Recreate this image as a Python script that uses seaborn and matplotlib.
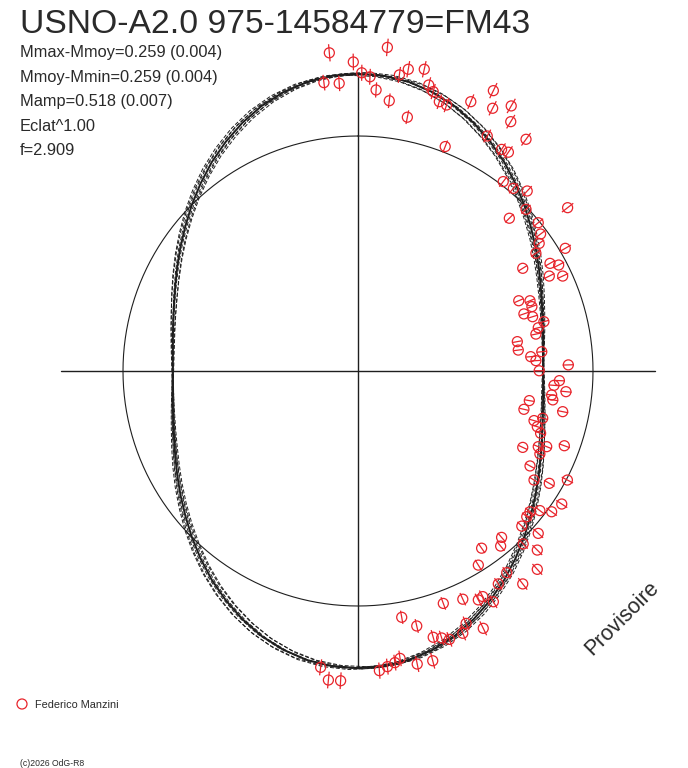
import numpy as np
import matplotlib
matplotlib.use("Agg")
import matplotlib.pyplot as plt
import seaborn as sns
from matplotlib.collections import LineCollection

# phase-folded light curve drawn in polar form (flux = radius, phase = angle)
title = "USNO-A2.0 975-14584779=FM43"
stats = [
    "Mmax-Mmoy=0.259 (0.004)",
    "Mmoy-Mmin=0.259 (0.004)",
    "Mamp=0.518 (0.007)",
    "Eclat^1.00",
    "f=2.909",
]
observer = "Federico Manzini"
footer = "(c)2026 OdG-R8"

# model curve: angle from top (deg, clockwise) -> relative flux, half period
curve_phase = [0, 5, 10, 15, 20, 25, 30, 35, 40, 45, 50, 55, 60, 65, 70, 75, 80, 85,
               90, 95, 100, 105, 110, 115, 120, 125, 130, 135, 140, 145, 150, 155, 160, 165, 170, 175]
curve_flux = [1.265, 1.261, 1.249, 1.228, 1.200, 1.165, 1.126, 1.085, 1.042, 1.000,
              0.959, 0.922, 0.888, 0.858, 0.833, 0.814, 0.800, 0.791, 0.788, 0.791,
              0.800, 0.814, 0.833, 0.858, 0.888, 0.922, 0.959, 1.000, 1.042, 1.085,
              1.126, 1.165, 1.200, 1.228, 1.249, 1.261]

# bootstrap variants of the model (flux exponent, phase shift deg)
var_power = [1.02, 0.98, 1.01, 0.99, 1.0, 1.0]
var_shift = [1.8, -1.8, -1.0, 1.0, 2.5, -2.5]

# observations in flux units (x = flux*sin(phase), y = flux*cos(phase))
obs_x = [-0.122, 0.125, -0.020, -0.145, -0.080, 0.016, 0.051, 0.077, 0.133, 0.210,
         0.176, 0.214, 0.282, 0.301, 0.320, 0.346, 0.377, 0.480, 0.576, 0.573,
         0.652, 0.650, 0.550, 0.371, 0.715, 0.611, 0.640, 0.618, 0.661, 0.720,
         0.715, 0.644, 0.892, 0.767, 0.777, 0.771, 0.757, 0.882, 0.701, 0.817,
         0.854, 0.814, 0.871, 0.684, 0.732, 0.740, 0.706, 0.743, 0.791, 0.767,
         0.757, 0.678, 0.682, 0.735, 0.757, 0.782, 0.895, 0.771, 0.857, 0.834,
         0.885, 0.824, 0.829, 0.729, 0.706, 0.871, 0.749, 0.786, 0.763, 0.777,
         0.701, 0.767, 0.803, 0.878, 0.774, 0.732, 0.749, 0.814, 0.891, 0.867,
         0.824, 0.774, 0.732, 0.718, 0.697, 0.767, 0.611, 0.607, 0.703, 0.763,
         0.526, 0.512, 0.633, 0.763, 0.597, 0.701, 0.363, 0.446, 0.512, 0.531,
         0.576, 0.186, 0.250, 0.460, 0.446, 0.533, 0.320, 0.356, 0.389, 0.179,
         0.157, 0.125, 0.091, 0.252, 0.318, -0.159, -0.126, -0.074]
obs_y = [1.354, 1.377, 1.315, 1.227, 1.224, 1.269, 1.252, 1.196, 1.150, 1.080,
         1.260, 1.284, 1.284, 1.217, 1.189, 1.146, 1.132, 1.146, 1.193, 1.118,
         1.128, 1.061, 1.000, 0.955, 0.986, 0.943, 0.931, 0.806, 0.777, 0.766,
         0.688, 0.650, 0.695, 0.631, 0.583, 0.543, 0.501, 0.522, 0.437, 0.458,
         0.451, 0.404, 0.404, 0.299, 0.299, 0.274, 0.243, 0.231, 0.210, 0.184,
         0.157, 0.125, 0.089, 0.061, 0.044, 0.082, 0.026, 0.001, -0.041, -0.061,
         -0.088, -0.102, -0.123, -0.126, -0.163, -0.173, -0.211, -0.201, -0.237, -0.265,
         -0.325, -0.322, -0.322, -0.318, -0.353, -0.404, -0.464, -0.478, -0.464, -0.566,
         -0.599, -0.594, -0.599, -0.620, -0.660, -0.691, -0.708, -0.745, -0.736, -0.762,
         -0.754, -0.826, -0.858, -0.844, -0.906, -0.906, -0.989, -0.971, -0.974, -0.960,
         -0.982, -1.048, -1.085, -1.074, -1.116, -1.095, -1.133, -1.136, -1.142, -1.223,
         -1.241, -1.258, -1.275, -1.247, -1.233, -1.261, -1.315, -1.318]
flux_err = 0.027  # relative error bar half-length

W, H = 688, 768
cx, cy, scale = 358, 371, 235.0
red = "#e8242b"
ink = "#1e1e1e"
txt = "#2a2a2a"

sns.set_theme(style="white")
plt.rcParams["font.family"] = ["Liberation Sans", "DejaVu Sans"]

fig = plt.figure(figsize=(W / 100, H / 100), dpi=100)
ax = fig.add_axes([0, 0, 1, 1])
ax.set_xlim(-cx / scale, (W - cx) / scale)
ax.set_ylim(-(H - cy) / scale, cy / scale)
ax.axis("off")

# full period of model curve (periodic every 180 deg)
ph = np.deg2rad(np.array(curve_phase + [p + 180 for p in curve_phase] + [360]))
fl = np.array(curve_flux + curve_flux + [curve_flux[0]])
rmax = fl.max()

# axes cross
ax.plot([-rmax, rmax], [0, 0], color=ink, lw=1.0)
ax.plot([0, 0], [-rmax, rmax], color=ink, lw=1.0)

# reference circle of mean flux
t = np.linspace(0, 2 * np.pi, 361)
ax.plot(np.sin(t), np.cos(t), color=ink, lw=0.8)

# dashed bootstrap curves
for k, d in zip(var_power, var_shift):
    rv = fl ** k
    pv = ph + np.deg2rad(d)
    ax.plot(rv * np.sin(pv), rv * np.cos(pv), color=ink, lw=0.7,
            linestyle=(0, (4, 2)))

# main model curve
sns.lineplot(x=fl * np.sin(ph), y=fl * np.cos(ph), sort=False, estimator=None,
             color=ink, lw=1.4, ax=ax)

# radial error bars
ox = np.array(obs_x)
oy = np.array(obs_y)
orad = np.hypot(ox, oy)
ux, uy = ox / orad, oy / orad
half = flux_err * orad
segs = [[(x - h * a, y - h * b), (x + h * a, y + h * b)]
        for x, y, a, b, h in zip(ox, oy, ux, uy, half)]
ax.add_collection(LineCollection(segs, colors=red, linewidths=0.9))

sns.scatterplot(x=ox, y=oy, s=52, facecolor="none", edgecolor=red,
                linewidth=0.9, ax=ax, zorder=5)

# texts
fig.text(20 / W, 1 - 33 / H, title, fontsize=24.2, color=txt, va="baseline", ha="left")
for i, s in enumerate(stats):
    fig.text(20 / W, 1 - (57.3 + 24.5 * i) / H, s, fontsize=11.8, color=txt,
             va="baseline", ha="left")

fig.text(622 / W, 1 - 618 / H, "Provisoire", fontsize=15.5, color=txt,
         rotation=45, ha="center", va="center")

ax.scatter([22 / W], [1 - 704 / H], s=52, facecolor="none", edgecolor=red,
           linewidth=0.9, transform=fig.transFigure, clip_on=False)
fig.text(35 / W, 1 - 705 / H, observer, fontsize=7.8, color=txt, va="center", ha="left")
fig.text(20 / W, 1 - 763 / H, footer, fontsize=6.2, color=txt, va="center", ha="left")

fig.savefig("out.png", dpi=100, facecolor="white")
